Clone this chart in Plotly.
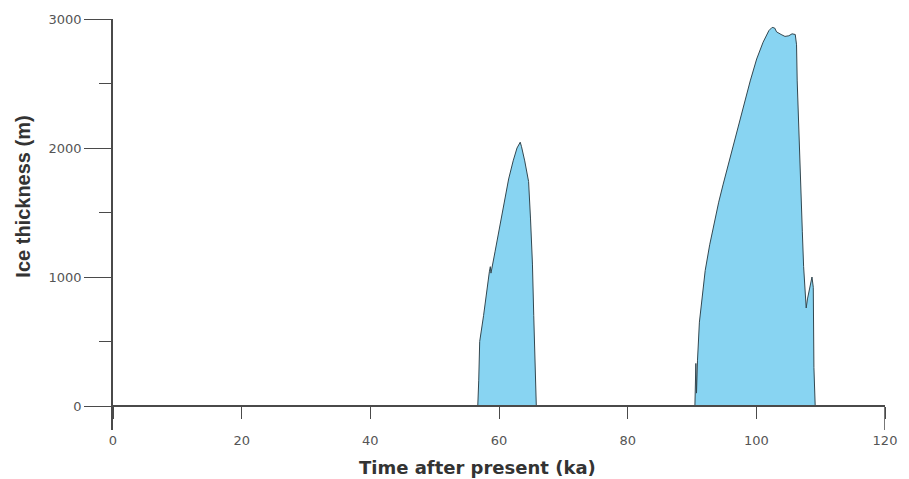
import plotly.graph_objects as go

# Time after present (ka) and ice thickness (m)
time_ka = [0, 56.7, 56.85, 57.0, 57.6, 58.2, 58.5, 58.65, 58.75, 59.4, 60.2, 60.9, 61.5, 62.2, 62.8, 63.3,
           63.5, 64.0, 64.6, 64.9, 65.2, 65.4, 65.6, 65.8,
           90.45, 90.6, 90.7, 90.85, 91.15, 91.55, 92.05, 92.75, 93.55, 94.15, 94.85, 96.05, 97.05, 98.05,
           99.05, 100.05, 101.05, 101.95, 102.45, 102.85, 103.15, 103.85, 104.45, 105.05, 105.55, 106.05, 106.25,
           106.35, 106.6, 106.85, 107.15, 107.35, 107.55, 107.75, 107.95, 108.35, 108.65, 108.85, 108.95, 109.15, 120]
thickness_m = [0, 0, 200, 500, 700, 950, 1040, 1080, 1030, 1200, 1420, 1600, 1760, 1900, 2000, 2045,
               2010, 1900, 1740, 1450, 1100, 700, 300, 0,
               0, 330, 100, 350, 650, 850, 1050, 1250, 1450, 1580, 1720, 1950, 2150, 2340,
               2520, 2690, 2820, 2910, 2935, 2930, 2900, 2880, 2865, 2870, 2885, 2880, 2800,
               2520, 2100, 1750, 1350, 1080, 950, 760, 830, 920, 1000, 920, 300, 0, 0]

x_ticks = [0, 20, 40, 60, 80, 100, 120]
y_ticks = [0, 1000, 2000, 3000]

fig = go.Figure()
fig.add_trace(go.Scatter(
    x=time_ka, y=thickness_m, mode="lines", fill="tozeroy",
    fillcolor="#88d4f2", line=dict(color="#33474f", width=1),
    hoverinfo="x+y", showlegend=False))

y_bottom = -186
y_top = 3000
pos0 = (0 - y_bottom) / (y_top - y_bottom)

axis_col = "#4a4a4a"
tickfont = dict(family="DejaVu Sans, sans-serif", size=13, color="#555")

fig.update_layout(
    width=909, height=479,
    margin=dict(l=113, r=13, t=19, b=49),
    paper_bgcolor="white", plot_bgcolor="white",
    xaxis=dict(range=[x_ticks[0], x_ticks[-1]], tickvals=x_ticks, ticktext=[str(v) for v in x_ticks],
               anchor="free", position=pos0, showline=True, linecolor=axis_col, linewidth=1.5,
               ticks="outside", ticklen=12, tickcolor=axis_col, tickwidth=1.2,
               ticklabelstandoff=11, tickfont=tickfont,
               showgrid=False, zeroline=False),
    yaxis=dict(range=[y_bottom, y_top], tickvals=y_ticks, ticktext=[str(v) for v in y_ticks],
               showline=True, linecolor=axis_col, linewidth=1.5,
               ticks="outside", ticklen=27, tickcolor=axis_col, tickwidth=1.2,
               minor=dict(tickvals=[500, 1500, 2500], ticks="outside", ticklen=12,
                          tickcolor=axis_col, tickwidth=1.2, showgrid=False),
               tickfont=tickfont, showgrid=False, zeroline=False),
    shapes=[dict(type="line", xref="x", yref="y", x0=x_ticks[-1], x1=x_ticks[-1],
                 y0=0, y1=y_bottom, line=dict(color=axis_col, width=1.5))],
    annotations=[
        dict(text="<b>Time after present (ka)</b>", xref="paper", yref="paper",
             x=0.472, y=-0.092, showarrow=False,
             xanchor="center", yanchor="middle",
             font=dict(family="DejaVu Sans, sans-serif", size=18, color="#333")),
        dict(text="<b>Ice thickness (m)</b>", xref="paper", yref="paper",
             x=-0.117, y=0.567, showarrow=False, textangle=-90,
             xanchor="center", yanchor="middle",
             font=dict(family="Liberation Sans, Arial, sans-serif", size=20, color="#333")),
    ],
)

fig.write_html("out.html")
